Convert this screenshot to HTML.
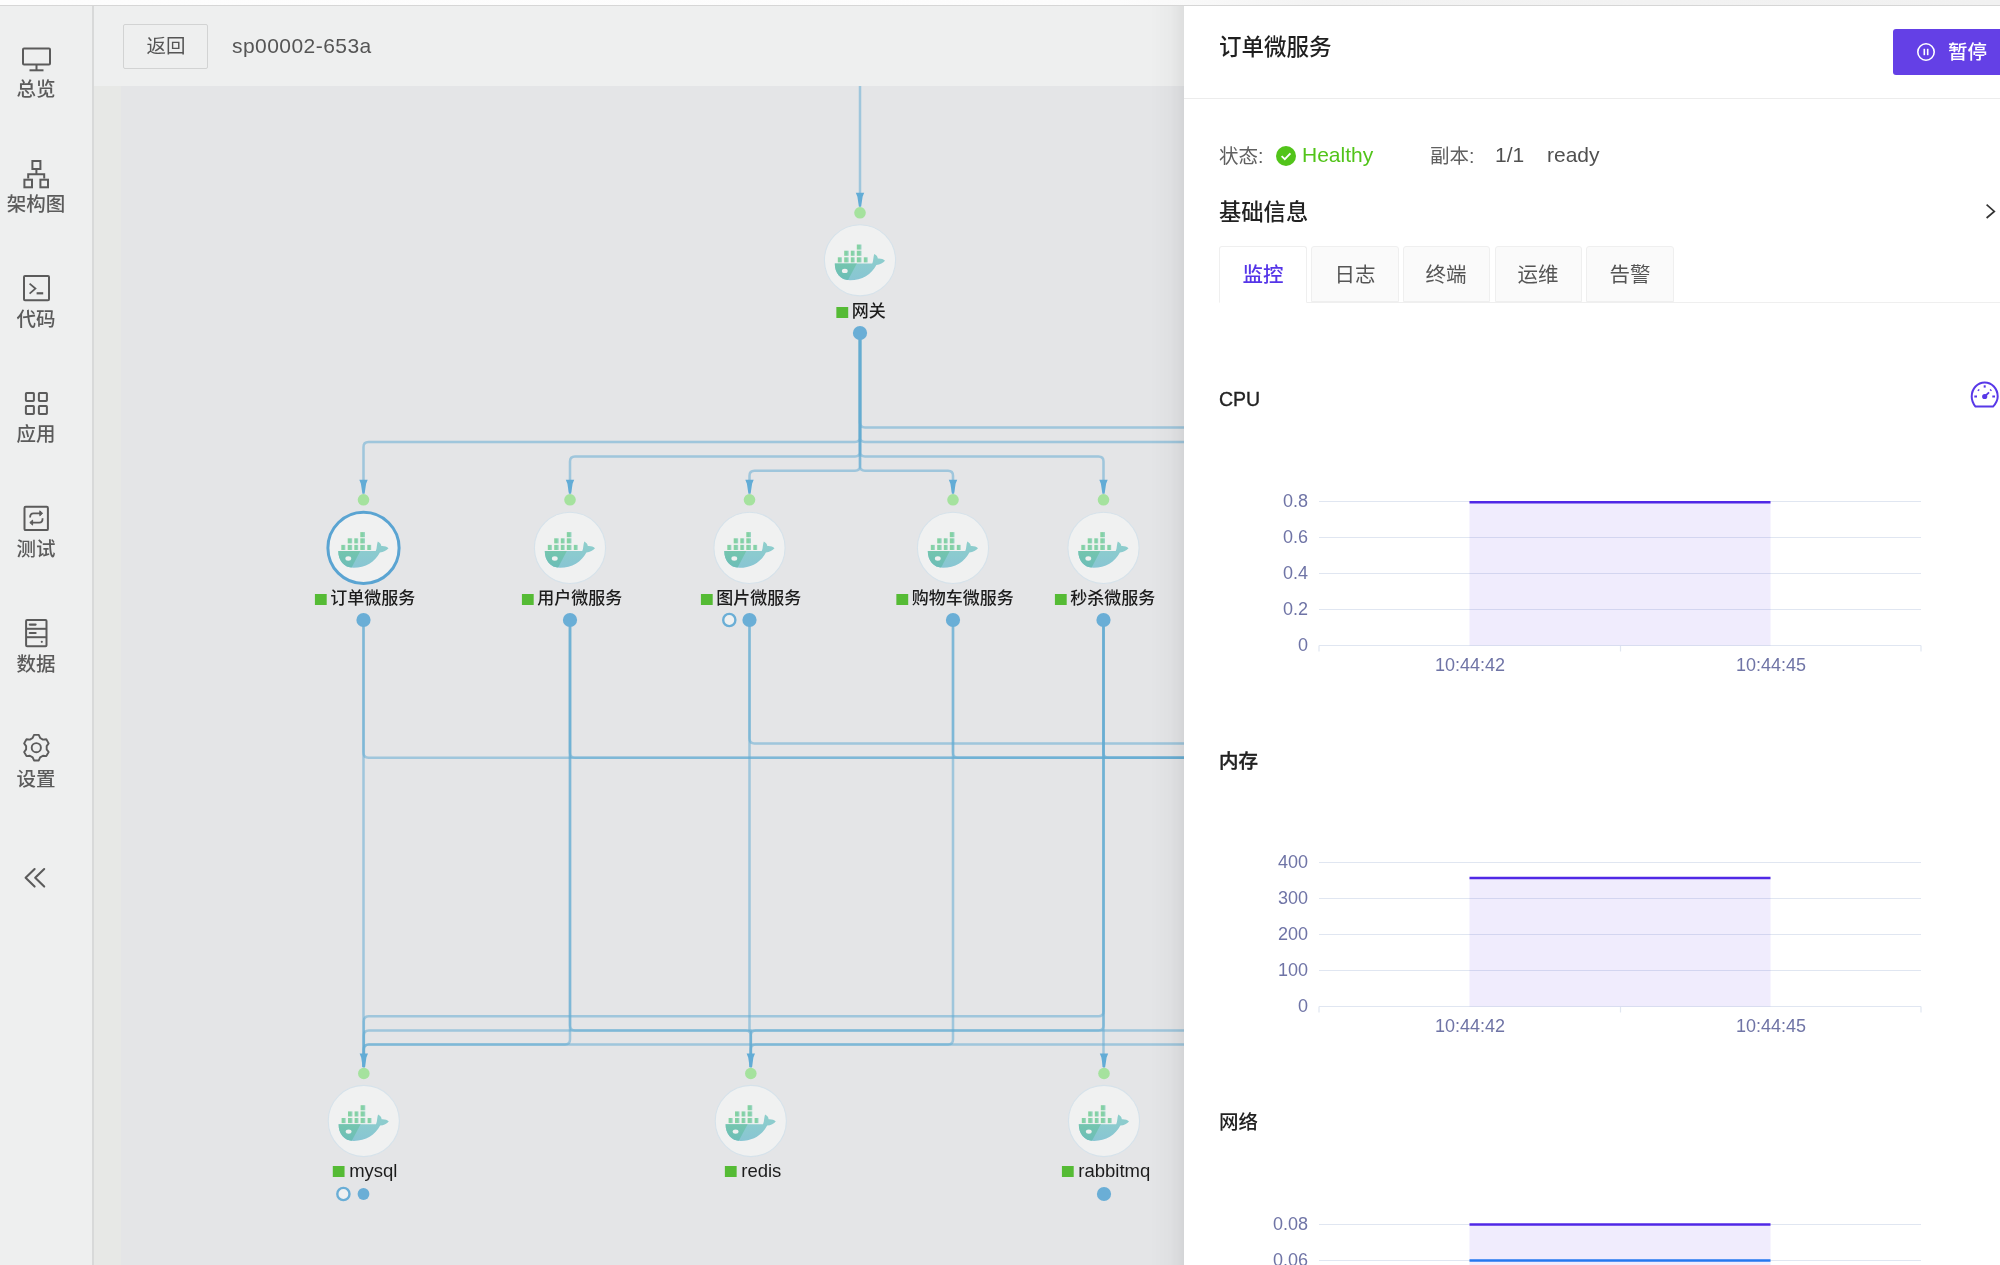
<!DOCTYPE html><html><head><meta charset="utf-8"><style>

*{margin:0;padding:0;box-sizing:border-box}
html,body{width:2000px;height:1265px;overflow:hidden;background:#fff;font-family:"Liberation Sans", "Noto Sans CJK SC", sans-serif}
.t{position:absolute;white-space:nowrap;will-change:transform}
.abs{position:absolute}

</style></head><body>
<div class="abs" style="left:0;top:0;width:2000px;height:5px;background:linear-gradient(to right,#fdfdfd 0,#fcfcfc 1120px,#f3f3f3 1320px,#f1f1f1 2000px)"></div>
<div class="abs" style="left:0;top:5px;width:2000px;height:1px;background:#d6d6d6"></div>
<div class="abs" style="left:0;top:6px;width:92px;height:1259px;background:#eeefef"></div>
<div class="abs" style="left:92px;top:6px;width:2px;height:1259px;background:#d8d9d9"></div>
<div class="abs" style="left:94px;top:6px;width:1090px;height:80px;background:#eeefef"></div>
<div class="abs" style="left:94px;top:86px;width:1090px;height:1179px;background:#e4e5e7"></div>
<div class="abs" style="left:94px;top:86px;width:27px;height:1179px;background:#e7e8e6"></div>
<div class="abs" style="left:123px;top:24px;width:85px;height:45px;border:1.5px solid #d2d3d3;border-radius:2px"></div>
<div class="t" style="left:165.5px;top:36.5px;font-size:19.5px;line-height:19.5px;color:#555;font-weight:400;transform:translateX(-50%);">返回</div>
<div class="t" style="left:232px;top:35px;font-size:21px;line-height:21px;color:#555;font-weight:400;letter-spacing:0.45px;">sp00002-653a</div>
<div class="t" style="left:35.5px;top:79.7px;font-size:19.5px;line-height:19.5px;color:#5b5b5b;font-weight:500;transform:translateX(-50%);">总览</div>
<div class="t" style="left:35.5px;top:194.7px;font-size:19.5px;line-height:19.5px;color:#5b5b5b;font-weight:500;transform:translateX(-50%);">架构图</div>
<div class="t" style="left:35.5px;top:309.7px;font-size:19.5px;line-height:19.5px;color:#5b5b5b;font-weight:500;transform:translateX(-50%);">代码</div>
<div class="t" style="left:35.5px;top:424.7px;font-size:19.5px;line-height:19.5px;color:#5b5b5b;font-weight:500;transform:translateX(-50%);">应用</div>
<div class="t" style="left:35.5px;top:539.7px;font-size:19.5px;line-height:19.5px;color:#5b5b5b;font-weight:500;transform:translateX(-50%);">测试</div>
<div class="t" style="left:35.5px;top:654.7px;font-size:19.5px;line-height:19.5px;color:#5b5b5b;font-weight:500;transform:translateX(-50%);">数据</div>
<div class="t" style="left:35.5px;top:769.7px;font-size:19.5px;line-height:19.5px;color:#5b5b5b;font-weight:500;transform:translateX(-50%);">设置</div>
<svg class="abs" style="left:0;top:0" width="94" height="900" viewBox="0 0 94 900" fill="none" stroke="#5b5b5b" stroke-width="2">
  <rect x="23" y="48.5" width="27" height="16" rx="1"/>
  <line x1="36.5" y1="65" x2="36.5" y2="70"/>
  <line x1="29.5" y1="70.3" x2="43.5" y2="70.3"/>
  <rect x="32.4" y="161" width="8" height="8"/>
  <line x1="36.4" y1="169" x2="36.4" y2="174"/>
  <polyline points="28.2,178.5 28.2,174.2 44.2,174.2 44.2,178.5"/>
  <rect x="24.4" y="179.7" width="7.6" height="7.6"/>
  <rect x="40.4" y="179.7" width="7.6" height="7.6"/>
  <rect x="24" y="276" width="25" height="24.2" rx="1"/>
  <polyline points="29.6,283.6 35.4,288.6 29.6,293.6" stroke-width="1.8"/>
  <line x1="36.6" y1="293.3" x2="43.2" y2="293.3" stroke-width="2.2"/>
  <rect x="25.9" y="393" width="8" height="8" rx="0.8"/>
  <rect x="38.9" y="393" width="8" height="8" rx="0.8"/>
  <rect x="25.9" y="406" width="8" height="8" rx="0.8"/>
  <rect x="38.9" y="406" width="8" height="8" rx="0.8"/>
  <rect x="24.5" y="506.7" width="23.4" height="23.4" rx="1.2"/>
  <path d="M30.1,517.5 C30.1,514 31.5,513.3 33.5,513.3 L40.2,513.3" stroke-width="1.8"/>
  <path d="M42.6,518.2 C42.6,521.7 41.2,522.6 39.2,522.6 L31.8,522.6" stroke-width="1.8"/>
  <path d="M39.8,510.8 L42.6,513.3 L39.8,515.8 Z" fill="#5b5b5b" stroke-width="1"/>
  <path d="M32.6,520.1 L29.8,522.6 L32.6,525.1 Z" fill="#5b5b5b" stroke-width="1"/>
  <rect x="26.1" y="620" width="20.4" height="26.2" rx="1"/>
  <line x1="26.1" y1="628.8" x2="46.5" y2="628.8"/>
  <line x1="26.1" y1="637.2" x2="46.5" y2="637.2"/>
  <line x1="29.8" y1="624.6" x2="35.6" y2="624.6" stroke-width="2.2" stroke-linecap="round"/>
  <line x1="29.8" y1="633" x2="35.6" y2="633" stroke-width="2.2" stroke-linecap="round"/>
  <circle cx="41.8" cy="641.8" r="1.1" fill="#5b5b5b" stroke="none"/>
  <path d="M40.13,737.99 L38.77,734.92 L34.03,734.92 L32.67,737.99 L29.86,739.62 L26.51,739.26 L24.15,743.36 L26.13,746.07 L26.13,749.33 L24.15,752.04 L26.51,756.14 L29.86,755.78 L32.67,757.41 L34.03,760.48 L38.77,760.48 L40.13,757.41 L42.94,755.78 L46.29,756.14 L48.65,752.04 L46.67,749.33 L46.67,746.07 L48.65,743.36 L46.29,739.26 L42.94,739.62 Z" stroke-width="1.9" stroke-linejoin="round"/>
  <circle cx="36.3" cy="747.7" r="4.6" stroke-width="1.9"/>
  <polyline points="34.6,869 25.6,877.8 34.6,886.6" stroke-width="2.1" stroke-linecap="round" stroke-linejoin="round"/>
  <polyline points="44.2,869 35.2,877.8 44.2,886.6" stroke-width="2.1" stroke-linecap="round" stroke-linejoin="round"/>
</svg>
<svg class="abs" style="left:0;top:0" width="1184" height="1265" viewBox="0 0 1184 1265">
<defs>
<symbol id="whale" viewBox="-30 -20 60 42" overflow="visible">
  <defs>
    <linearGradient id="hgL" x1="0" y1="0" x2="0" y2="1">
      <stop offset="0" stop-color="#79caa8"/>
      <stop offset="1" stop-color="#6cbdb8"/>
    </linearGradient>
    <linearGradient id="hgR" x1="0" y1="0" x2="0" y2="1">
      <stop offset="0" stop-color="#8ecfcb"/>
      <stop offset="1" stop-color="#88c5d3"/>
    </linearGradient>
    <linearGradient id="bxg" x1="0" y1="0" x2="1" y2="0">
      <stop offset="0" stop-color="#88d49f"/>
      <stop offset="0.55" stop-color="#82cfa8"/>
      <stop offset="1" stop-color="#a0d7c8"/>
    </linearGradient>
    <clipPath id="wl"><polygon points="-30,-10 -3.2,-10 -3.2,3.2 -12.6,21 -30,21"/></clipPath>
  </defs>
  <g fill="url(#bxg)">
    <rect x="-22.2" y="-3.0" width="4.1" height="5.1"/>
    <rect x="-15.8" y="-3.0" width="4.5" height="5.1"/>
    <rect x="-9.2" y="-3.0" width="3.9" height="5.1"/>
    <rect x="-3.2" y="-3.0" width="4.7" height="5.1"/>
    <rect x="3.8" y="-3.0" width="3.9" height="5.1"/>
    <rect x="-15.8" y="-9.6" width="4.5" height="5.1"/>
    <rect x="-9.2" y="-9.6" width="3.9" height="5.1"/>
    <rect x="-3.2" y="-9.6" width="4.7" height="5.1"/>
    <rect x="-3.2" y="-15.8" width="4.7" height="5.1"/>
  </g>
  <path id="hull" fill="url(#hgR)" d="M-25.2,3.2 L12.2,3.2 C13.4,1.6 13.2,-3.4 14.3,-6.4 C16.4,-5.4 17.8,-3.6 17.8,-1.8 C20.6,-2.1 23.4,-1.2 25,0.4 C23.2,2.8 20,4.2 16.4,4.6 C11.6,14 2,19.9 -10,19.9 C-20,19.9 -25.2,12.5 -25.2,3.2 Z"/>
  <path fill="url(#hgL)" clip-path="url(#wl)" d="M-25.2,3.2 L12.2,3.2 C13.4,1.6 13.2,-3.4 14.3,-6.4 C16.4,-5.4 17.8,-3.6 17.8,-1.8 C20.6,-2.1 23.4,-1.2 25,0.4 C23.2,2.8 20,4.2 16.4,4.6 C11.6,14 2,19.9 -10,19.9 C-20,19.9 -25.2,12.5 -25.2,3.2 Z"/>
  <ellipse cx="-15.2" cy="10.6" rx="2.9" ry="2.2" fill="#eff0f0"/>
</symbol>
<clipPath id="cv"><rect x="94" y="86" width="1090" height="1179"/></clipPath></defs>
<g clip-path="url(#cv)">
<path d="M860,338 L860.0,437.0 Q860,442 855.0,442.0 L368.5,442.0 Q363.5,442 363.5,447.0 L363.5,492" fill="none" stroke="rgba(100,171,210,0.54)" stroke-width="2.5"/>
<path d="M860,338 L860.0,451.5 Q860,456.5 855.0,456.5 L575.0,456.5 Q570,456.5 570.0,461.5 L570,492" fill="none" stroke="rgba(100,171,210,0.54)" stroke-width="2.5"/>
<path d="M860,338 L860.0,465.8 Q860,470.8 855.0,470.8 L754.5,470.8 Q749.5,470.8 749.5,475.8 L749.5,492" fill="none" stroke="rgba(100,171,210,0.54)" stroke-width="2.5"/>
<path d="M860,338 L860.0,465.8 Q860,470.8 865.0,470.8 L948.0,470.8 Q953,470.8 953.0,475.8 L953,492" fill="none" stroke="rgba(100,171,210,0.54)" stroke-width="2.5"/>
<path d="M860,338 L860.0,451.5 Q860,456.5 865.0,456.5 L1098.5,456.5 Q1103.5,456.5 1103.5,461.5 L1103.5,492" fill="none" stroke="rgba(100,171,210,0.54)" stroke-width="2.5"/>
<path d="M860,338 L860.0,422.6 Q860,427.6 865.0,427.6 L1200,427.6" fill="none" stroke="rgba(100,171,210,0.54)" stroke-width="2.5"/>
<path d="M860,338 L860.0,437.0 Q860,442 865.0,442.0 L1200,442" fill="none" stroke="rgba(100,171,210,0.54)" stroke-width="2.5"/>
<path d="M363.5,625 L363.5,752.8 Q363.5,757.8 368.5,757.8 L1200,757.8" fill="none" stroke="rgba(100,171,210,0.54)" stroke-width="2.5"/>
<path d="M570,625 L570.0,752.8 Q570,757.8 575.0,757.8 L1200,757.8" fill="none" stroke="rgba(100,171,210,0.54)" stroke-width="2.5"/>
<path d="M749.5,625 L749.5,738.4 Q749.5,743.4 754.5,743.4 L1200,743.4" fill="none" stroke="rgba(100,171,210,0.54)" stroke-width="2.5"/>
<path d="M953,625 L953.0,752.8 Q953,757.8 958.0,757.8 L1200,757.8" fill="none" stroke="rgba(100,171,210,0.54)" stroke-width="2.5"/>
<path d="M1103.5,625 L1103.5,752.8 Q1103.5,757.8 1108.5,757.8 L1200,757.8" fill="none" stroke="rgba(100,171,210,0.54)" stroke-width="2.5"/>
<path d="M363.5,625 L363.5,1067" fill="none" stroke="rgba(100,171,210,0.54)" stroke-width="2.5"/>
<path d="M1103.5,625 L1103.5,1011.3 Q1103.5,1016.3 1098.5,1016.3 L368.8,1016.3 Q363.8,1016.3 363.8,1021.3 L363.8,1067" fill="none" stroke="rgba(100,171,210,0.54)" stroke-width="2.5"/>
<path d="M570,625 L570.0,1025.6 Q570,1030.6 575.0,1030.6 L745.8,1030.6 Q750.8,1030.6 750.8,1035.6 L750.8,1067" fill="none" stroke="rgba(100,171,210,0.54)" stroke-width="2.5"/>
<path d="M1103.5,625 L1103.5,1025.6 Q1103.5,1030.6 1098.5,1030.6 L755.8,1030.6 Q750.8,1030.6 750.8,1035.6 L750.8,1067" fill="none" stroke="rgba(100,171,210,0.54)" stroke-width="2.5"/>
<path d="M1200,1030.6 L368.8,1030.6 Q363.8,1030.6 363.8,1035.6 L363.8,1067" fill="none" stroke="rgba(100,171,210,0.54)" stroke-width="2.5"/>
<path d="M570,625 L570.0,1039.6 Q570,1044.6 565.0,1044.6 L368.8,1044.6 Q363.8,1044.6 363.8,1049.6 L363.8,1067" fill="none" stroke="rgba(100,171,210,0.54)" stroke-width="2.5"/>
<path d="M953,625 L953.0,1039.6 Q953,1044.6 948.0,1044.6 L755.8,1044.6 Q750.8,1044.6 750.8,1049.6 L750.8,1067" fill="none" stroke="rgba(100,171,210,0.54)" stroke-width="2.5"/>
<path d="M1200,1044.6 L368.8,1044.6 Q363.8,1044.6 363.8,1049.6 L363.8,1067" fill="none" stroke="rgba(100,171,210,0.54)" stroke-width="2.5"/>
<path d="M749.5,625 L749.5,1029.9 Q749.5,1030.6 750.1,1030.6 L750.1,1030.6 Q750.8,1030.6 750.8,1031.2 L750.8,1067" fill="none" stroke="rgba(100,171,210,0.54)" stroke-width="2.5"/>
<path d="M1103.5,625 L1103.5,1067" fill="none" stroke="rgba(100,171,210,0.54)" stroke-width="2.5"/>
<path d="M860,80 L860,200" fill="none" stroke="rgba(100,171,210,0.54)" stroke-width="2.5"/>
<path d="M855.8,192.8 L864.2,192.8 L862.6,196.8 L861.1,206.8 L858.9,206.8 L857.4,196.8 Z" fill="#62acd6"/>
<path d="M359.3,479.8 L367.7,479.8 L366.1,483.8 L364.6,493.8 L362.4,493.8 L360.9,483.8 Z" fill="#62acd6"/>
<path d="M565.8,479.8 L574.2,479.8 L572.6,483.8 L571.1,493.8 L568.9,493.8 L567.4,483.8 Z" fill="#62acd6"/>
<path d="M745.3,479.8 L753.7,479.8 L752.1,483.8 L750.6,493.8 L748.4,493.8 L746.9,483.8 Z" fill="#62acd6"/>
<path d="M948.8,479.8 L957.2,479.8 L955.6,483.8 L954.1,493.8 L951.9,493.8 L950.4,483.8 Z" fill="#62acd6"/>
<path d="M1099.3,479.8 L1107.7,479.8 L1106.1,483.8 L1104.6,493.8 L1102.4,493.8 L1100.9,483.8 Z" fill="#62acd6"/>
<path d="M359.6,1053.5 L368.0,1053.5 L366.40000000000003,1057.5 L364.90000000000003,1067.5 L362.7,1067.5 L361.2,1057.5 Z" fill="#62acd6"/>
<path d="M746.5999999999999,1053.5 L755.0,1053.5 L753.4,1057.5 L751.9,1067.5 L749.6999999999999,1067.5 L748.1999999999999,1057.5 Z" fill="#62acd6"/>
<path d="M1099.8,1053.5 L1108.2,1053.5 L1106.6,1057.5 L1105.1,1067.5 L1102.9,1067.5 L1101.4,1057.5 Z" fill="#62acd6"/>
<circle cx="860" cy="212.8" r="5.8" fill="#a5e29e"/>
<circle cx="860" cy="260.3" r="35.6" fill="#f0f1f1" stroke="#d6e2ea" stroke-width="1.1"/>
<use href="#whale" x="830" y="240.3" width="60" height="42"/>
<circle cx="860" cy="333" r="7.1" fill="#6aaed6"/>
<circle cx="363.5" cy="499.8" r="5.8" fill="#a5e29e"/>
<circle cx="363.5" cy="547.9" r="35.6" fill="#f0f1f1" stroke="#d6e2ea" stroke-width="1.1"/>
<circle cx="363.5" cy="547.9" r="35.6" fill="none" stroke="#5aa4d2" stroke-width="3"/>
<use href="#whale" x="333.5" y="527.9" width="60" height="42"/>
<circle cx="363.5" cy="620" r="7.1" fill="#6aaed6"/>
<circle cx="570" cy="499.8" r="5.8" fill="#a5e29e"/>
<circle cx="570" cy="547.9" r="35.6" fill="#f0f1f1" stroke="#d6e2ea" stroke-width="1.1"/>
<use href="#whale" x="540" y="527.9" width="60" height="42"/>
<circle cx="570" cy="620" r="7.1" fill="#6aaed6"/>
<circle cx="749.5" cy="499.8" r="5.8" fill="#a5e29e"/>
<circle cx="749.5" cy="547.9" r="35.6" fill="#f0f1f1" stroke="#d6e2ea" stroke-width="1.1"/>
<use href="#whale" x="719.5" y="527.9" width="60" height="42"/>
<circle cx="749.5" cy="620" r="7.1" fill="#6aaed6"/>
<circle cx="953" cy="499.8" r="5.8" fill="#a5e29e"/>
<circle cx="953" cy="547.9" r="35.6" fill="#f0f1f1" stroke="#d6e2ea" stroke-width="1.1"/>
<use href="#whale" x="923" y="527.9" width="60" height="42"/>
<circle cx="953" cy="620" r="7.1" fill="#6aaed6"/>
<circle cx="1103.5" cy="499.8" r="5.8" fill="#a5e29e"/>
<circle cx="1103.5" cy="547.9" r="35.6" fill="#f0f1f1" stroke="#d6e2ea" stroke-width="1.1"/>
<use href="#whale" x="1073.5" y="527.9" width="60" height="42"/>
<circle cx="1103.5" cy="620" r="7.1" fill="#6aaed6"/>
<circle cx="729.3" cy="620" r="6.1" fill="#eef0f1" stroke="#6aaed6" stroke-width="2.4"/>
<circle cx="363.8" cy="1073.5" r="5.8" fill="#a5e29e"/>
<circle cx="363.8" cy="1121" r="35.6" fill="#f0f1f1" stroke="#d6e2ea" stroke-width="1.1"/>
<use href="#whale" x="333.8" y="1101" width="60" height="42"/>
<circle cx="750.8" cy="1073.5" r="5.8" fill="#a5e29e"/>
<circle cx="750.8" cy="1121" r="35.6" fill="#f0f1f1" stroke="#d6e2ea" stroke-width="1.1"/>
<use href="#whale" x="720.8" y="1101" width="60" height="42"/>
<circle cx="1104" cy="1073.5" r="5.8" fill="#a5e29e"/>
<circle cx="1104" cy="1121" r="35.6" fill="#f0f1f1" stroke="#d6e2ea" stroke-width="1.1"/>
<use href="#whale" x="1074" y="1101" width="60" height="42"/>
<circle cx="343.4" cy="1194" r="6.1" fill="#eef0f1" stroke="#6aaed6" stroke-width="2.4"/>
<circle cx="363.5" cy="1194" r="5.9" fill="#6aaed6"/>
<circle cx="1104" cy="1194" r="7.1" fill="#6aaed6"/>
</g></svg>
<div class="t" style="left:861px;top:303px;transform:translateX(-50%);font-size:17px;line-height:17px;color:#1c1c1c;font-weight:500;display:flex;align-items:center"><span style="display:inline-block;width:11.6px;height:11.6px;background:#55bb35;margin-right:4px;position:relative;top:1px"></span>网关</div>
<div class="t" style="left:365px;top:589.5px;transform:translateX(-50%);font-size:17px;line-height:17px;color:#1c1c1c;font-weight:500;display:flex;align-items:center"><span style="display:inline-block;width:11.6px;height:11.6px;background:#55bb35;margin-right:4px;position:relative;top:1px"></span>订单微服务</div>
<div class="t" style="left:571.5px;top:589.5px;transform:translateX(-50%);font-size:17px;line-height:17px;color:#1c1c1c;font-weight:500;display:flex;align-items:center"><span style="display:inline-block;width:11.6px;height:11.6px;background:#55bb35;margin-right:4px;position:relative;top:1px"></span>用户微服务</div>
<div class="t" style="left:750.5px;top:589.5px;transform:translateX(-50%);font-size:17px;line-height:17px;color:#1c1c1c;font-weight:500;display:flex;align-items:center"><span style="display:inline-block;width:11.6px;height:11.6px;background:#55bb35;margin-right:4px;position:relative;top:1px"></span>图片微服务</div>
<div class="t" style="left:954.5px;top:589.5px;transform:translateX(-50%);font-size:17px;line-height:17px;color:#1c1c1c;font-weight:500;display:flex;align-items:center"><span style="display:inline-block;width:11.6px;height:11.6px;background:#55bb35;margin-right:4px;position:relative;top:1px"></span>购物车微服务</div>
<div class="t" style="left:1105px;top:589.5px;transform:translateX(-50%);font-size:17px;line-height:17px;color:#1c1c1c;font-weight:500;display:flex;align-items:center"><span style="display:inline-block;width:11.6px;height:11.6px;background:#55bb35;margin-right:4px;position:relative;top:1px"></span>秒杀微服务</div>
<div class="t" style="left:364.5px;top:1162px;transform:translateX(-50%);font-size:18.5px;line-height:17px;color:#1c1c1c;font-weight:400;display:flex;align-items:center"><span style="display:inline-block;width:11.6px;height:11.6px;background:#55bb35;margin-right:5px;position:relative;top:1px"></span>mysql</div>
<div class="t" style="left:752.5px;top:1162px;transform:translateX(-50%);font-size:18.5px;line-height:17px;color:#1c1c1c;font-weight:400;display:flex;align-items:center"><span style="display:inline-block;width:11.6px;height:11.6px;background:#55bb35;margin-right:5px;position:relative;top:1px"></span>redis</div>
<div class="t" style="left:1105.5px;top:1162px;transform:translateX(-50%);font-size:18.5px;line-height:17px;color:#1c1c1c;font-weight:400;display:flex;align-items:center"><span style="display:inline-block;width:11.6px;height:11.6px;background:#55bb35;margin-right:5px;position:relative;top:1px"></span>rabbitmq</div>
<div class="abs" style="left:1150px;top:6px;width:34px;height:1259px;background:linear-gradient(to right, rgba(0,0,0,0), rgba(0,0,0,0.02) 60%, rgba(0,0,0,0.065))"></div>
<div class="abs" style="left:1184px;top:6px;width:816px;height:1259px;background:#fff"></div>
<div class="abs" style="left:1184px;top:98px;width:816px;height:1px;background:#ececec"></div>
<div class="t" style="left:1219px;top:37.2px;font-size:22.5px;line-height:22.5px;color:#1f1f1f;font-weight:500;">订单微服务</div>
<div class="abs" style="left:1893px;top:29px;width:140px;height:46px;background:#6440e6;border-radius:3px"></div>
<svg class="abs" style="left:1915px;top:41px" width="24" height="24" viewBox="0 0 24 24" fill="none" stroke="#fff" stroke-width="1.6"><circle cx="11" cy="11" r="8.2"/><line x1="9.3" y1="7.8" x2="9.3" y2="14.2"/><line x1="12.7" y1="7.8" x2="12.7" y2="14.2"/></svg>
<div class="t" style="left:1948px;top:43.2px;font-size:19.5px;line-height:19.5px;color:#fff;font-weight:500;">暂停</div>
<div class="t" style="left:1219px;top:146.6px;font-size:19.5px;line-height:19.5px;color:#606060;font-weight:400;">状态:</div>
<svg class="abs" style="left:1275px;top:145px" width="22" height="22" viewBox="0 0 22 22"><circle cx="11" cy="11" r="10" fill="#52c41a"/><path d="M6.6,11.2 L9.8,14.2 L15.4,8.3" fill="none" stroke="#fff" stroke-width="1.8"/></svg>
<div class="t" style="left:1302px;top:144px;font-size:21px;line-height:21px;color:#52c41a;font-weight:400;">Healthy</div>
<div class="t" style="left:1430px;top:147px;font-size:19.5px;line-height:19.5px;color:#606060;font-weight:400;">副本:</div>
<div class="t" style="left:1495px;top:144.3px;font-size:21px;line-height:21px;color:#505050;font-weight:400;">1/1</div>
<div class="t" style="left:1546.5px;top:144.3px;font-size:21px;line-height:21px;color:#505050;font-weight:400;">ready</div>
<div class="t" style="left:1219px;top:201.5px;font-size:22.3px;line-height:22.3px;color:#222;font-weight:500;">基础信息</div>
<svg class="abs" style="left:1982px;top:201px" width="18" height="22" viewBox="0 0 18 22"><polyline points="4.6,3.7 12.3,10.4 4.6,17" fill="none" stroke="#333" stroke-width="1.7"/></svg>
<div class="abs" style="left:1219px;top:301.5px;width:781px;height:1px;background:#efefef"></div>
<div class="abs" style="left:1219px;top:246px;width:87.5px;height:57px;background:#fff;border:1px solid #efefef;border-bottom-color:#fff;border-radius:3px 3px 0 0"></div>
<div class="t" style="left:1262.75px;top:265px;font-size:20.5px;line-height:20.5px;color:#5535e8;font-weight:500;transform:translateX(-50%);">监控</div>
<div class="abs" style="left:1311px;top:246px;width:87.5px;height:56px;background:#fafafa;border:1px solid #efefef;border-radius:3px 3px 0 0"></div>
<div class="t" style="left:1354.75px;top:265px;font-size:20.5px;line-height:20.5px;color:#555;font-weight:400;transform:translateX(-50%);">日志</div>
<div class="abs" style="left:1402.5px;top:246px;width:87.5px;height:56px;background:#fafafa;border:1px solid #efefef;border-radius:3px 3px 0 0"></div>
<div class="t" style="left:1446.25px;top:265px;font-size:20.5px;line-height:20.5px;color:#555;font-weight:400;transform:translateX(-50%);">终端</div>
<div class="abs" style="left:1494.5px;top:246px;width:87.5px;height:56px;background:#fafafa;border:1px solid #efefef;border-radius:3px 3px 0 0"></div>
<div class="t" style="left:1538.25px;top:265px;font-size:20.5px;line-height:20.5px;color:#555;font-weight:400;transform:translateX(-50%);">运维</div>
<div class="abs" style="left:1586px;top:246px;width:87.5px;height:56px;background:#fafafa;border:1px solid #efefef;border-radius:3px 3px 0 0"></div>
<div class="t" style="left:1629.75px;top:265px;font-size:20.5px;line-height:20.5px;color:#555;font-weight:400;transform:translateX(-50%);">告警</div>
<div class="t" style="left:1219px;top:390.2px;font-size:19.5px;line-height:19.5px;color:#222;font-weight:500;-webkit-text-stroke:0.35px #222;">CPU</div>
<svg class="abs" style="left:1184px;top:0" width="816" height="1265" viewBox="1184 0 816 1265"><line x1="1319" y1="501.5" x2="1921" y2="501.5" stroke="#e0e6f1" stroke-width="1"/><line x1="1319" y1="537.5" x2="1921" y2="537.5" stroke="#e0e6f1" stroke-width="1"/><line x1="1319" y1="573.5" x2="1921" y2="573.5" stroke="#e0e6f1" stroke-width="1"/><line x1="1319" y1="609.5" x2="1921" y2="609.5" stroke="#e0e6f1" stroke-width="1"/><line x1="1319" y1="645.5" x2="1921" y2="645.5" stroke="#e0e6f1" stroke-width="1.2"/><line x1="1319" y1="645.5" x2="1319" y2="651.5" stroke="#e0e6f1" stroke-width="1.2"/><line x1="1620.5" y1="645.5" x2="1620.5" y2="651.5" stroke="#e0e6f1" stroke-width="1.2"/><line x1="1921" y1="645.5" x2="1921" y2="651.5" stroke="#e0e6f1" stroke-width="1.2"/><rect x="1469.5" y="502.3" width="301" height="143.2" fill="rgba(80,40,230,0.085)"/><line x1="1469.5" y1="502.3" x2="1770.5" y2="502.3" stroke="#5028e6" stroke-width="2.4"/></svg>
<div class="t" style="left:1307.5px;top:492.0px;font-size:18px;line-height:18px;color:#6f74a6;font-weight:400;transform:translateX(-100%);">0.8</div>
<div class="t" style="left:1307.5px;top:528.0px;font-size:18px;line-height:18px;color:#6f74a6;font-weight:400;transform:translateX(-100%);">0.6</div>
<div class="t" style="left:1307.5px;top:564.0px;font-size:18px;line-height:18px;color:#6f74a6;font-weight:400;transform:translateX(-100%);">0.4</div>
<div class="t" style="left:1307.5px;top:600.0px;font-size:18px;line-height:18px;color:#6f74a6;font-weight:400;transform:translateX(-100%);">0.2</div>
<div class="t" style="left:1307.5px;top:636.0px;font-size:18px;line-height:18px;color:#6f74a6;font-weight:400;transform:translateX(-100%);">0</div>
<div class="t" style="left:1469.5px;top:656.0px;font-size:18px;line-height:18px;color:#6f74a6;font-weight:400;transform:translateX(-50%);">10:44:42</div>
<div class="t" style="left:1770.5px;top:656.0px;font-size:18px;line-height:18px;color:#6f74a6;font-weight:400;transform:translateX(-50%);">10:44:45</div>
<div class="t" style="left:1219px;top:752px;font-size:19.5px;line-height:19.5px;color:#222;font-weight:500;-webkit-text-stroke:0.35px #222;">内存</div>
<svg class="abs" style="left:1184px;top:0" width="816" height="1265" viewBox="1184 0 816 1265"><line x1="1319" y1="862.5" x2="1921" y2="862.5" stroke="#e0e6f1" stroke-width="1"/><line x1="1319" y1="898.5" x2="1921" y2="898.5" stroke="#e0e6f1" stroke-width="1"/><line x1="1319" y1="934.5" x2="1921" y2="934.5" stroke="#e0e6f1" stroke-width="1"/><line x1="1319" y1="970.5" x2="1921" y2="970.5" stroke="#e0e6f1" stroke-width="1"/><line x1="1319" y1="1006.5" x2="1921" y2="1006.5" stroke="#e0e6f1" stroke-width="1.2"/><line x1="1319" y1="1006.5" x2="1319" y2="1012.5" stroke="#e0e6f1" stroke-width="1.2"/><line x1="1620.5" y1="1006.5" x2="1620.5" y2="1012.5" stroke="#e0e6f1" stroke-width="1.2"/><line x1="1921" y1="1006.5" x2="1921" y2="1012.5" stroke="#e0e6f1" stroke-width="1.2"/><rect x="1469.5" y="878" width="301" height="128.5" fill="rgba(80,40,230,0.085)"/><line x1="1469.5" y1="878" x2="1770.5" y2="878" stroke="#5028e6" stroke-width="2.4"/></svg>
<div class="t" style="left:1307.5px;top:853.0px;font-size:18px;line-height:18px;color:#6f74a6;font-weight:400;transform:translateX(-100%);">400</div>
<div class="t" style="left:1307.5px;top:889.0px;font-size:18px;line-height:18px;color:#6f74a6;font-weight:400;transform:translateX(-100%);">300</div>
<div class="t" style="left:1307.5px;top:925.0px;font-size:18px;line-height:18px;color:#6f74a6;font-weight:400;transform:translateX(-100%);">200</div>
<div class="t" style="left:1307.5px;top:961.0px;font-size:18px;line-height:18px;color:#6f74a6;font-weight:400;transform:translateX(-100%);">100</div>
<div class="t" style="left:1307.5px;top:997.0px;font-size:18px;line-height:18px;color:#6f74a6;font-weight:400;transform:translateX(-100%);">0</div>
<div class="t" style="left:1469.5px;top:1017.0px;font-size:18px;line-height:18px;color:#6f74a6;font-weight:400;transform:translateX(-50%);">10:44:42</div>
<div class="t" style="left:1770.5px;top:1017.0px;font-size:18px;line-height:18px;color:#6f74a6;font-weight:400;transform:translateX(-50%);">10:44:45</div>
<div class="t" style="left:1219px;top:1113px;font-size:19.5px;line-height:19.5px;color:#222;font-weight:500;">网络</div>
<svg class="abs" style="left:1184px;top:0" width="816" height="1265" viewBox="1184 0 816 1265"><line x1="1319" y1="1224.5" x2="1921" y2="1224.5" stroke="#e0e6f1"/><line x1="1319" y1="1260.5" x2="1921" y2="1260.5" stroke="#e0e6f1"/><rect x="1469.5" y="1224.5" width="301" height="41" fill="rgba(80,40,230,0.085)"/><line x1="1469.5" y1="1224.5" x2="1770.5" y2="1224.5" stroke="#5028e6" stroke-width="2.4"/><line x1="1469.5" y1="1260.5" x2="1770.5" y2="1260.5" stroke="#2479ef" stroke-width="2.4"/></svg>
<div class="t" style="left:1307.5px;top:1215.0px;font-size:18px;line-height:18px;color:#6f74a6;font-weight:400;transform:translateX(-100%);">0.08</div>
<div class="t" style="left:1307.5px;top:1251.0px;font-size:18px;line-height:18px;color:#6f74a6;font-weight:400;transform:translateX(-100%);">0.06</div>
<svg class="abs" style="left:1966px;top:378px" width="34" height="34" viewBox="0 0 34 34" fill="none" stroke="#5838e8" stroke-width="2">
<path d="M9.5,28.6 L27,28.6 C29.6,25.8 31.7,22.6 31.7,18.5 C31.7,10.6 25.8,4.4 18.7,4.4 C11.6,4.4 5.7,10.6 5.7,18.5 C5.7,22.6 7.2,25.8 9.5,28.6 Z"/>
<line x1="18.7" y1="7.3" x2="18.7" y2="9.6"/><line x1="8.3" y1="18.5" x2="11" y2="18.5"/><line x1="26.3" y1="18.5" x2="29" y2="18.5"/>
<line x1="12.1" y1="11.6" x2="13" y2="12.6"/><line x1="25.2" y1="11.6" x2="24.3" y2="12.6"/>
<line x1="18.7" y1="18.5" x2="23" y2="14.4" stroke-width="1.8"/><circle cx="18.7" cy="18.5" r="1.6" fill="#5838e8"/>
</svg>
</body></html>
